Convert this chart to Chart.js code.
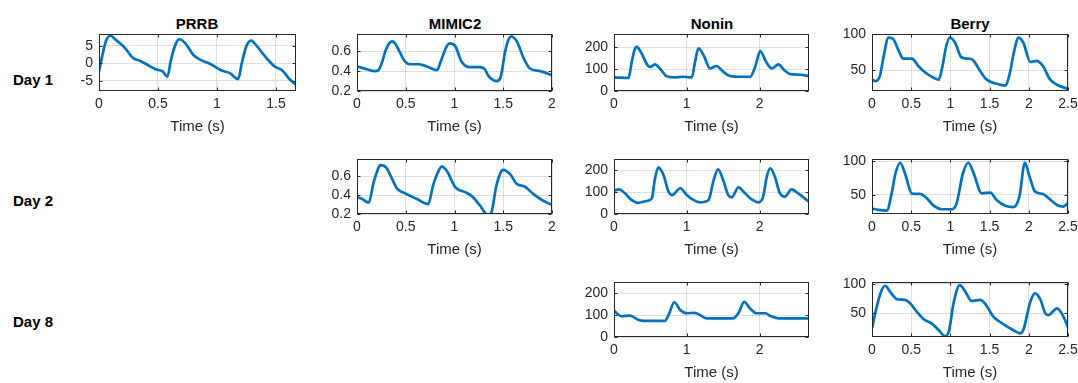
<!DOCTYPE html>
<html>
<head>
<meta charset="utf-8">
<title>PPG waveforms by device and day</title>
<script src="https://cdn.jsdelivr.net/npm/chart.js@4.4.0/dist/chart.umd.min.js"></script>
<style>
    body {
        margin: 0;
        background: #fff;
        width: 1078px;
        height: 383px;
        position: relative;
        overflow: hidden;
        font-family: "Liberation Sans", Arial, sans-serif;
    }
    canvas { position: absolute; }
    .lbl {
        position: absolute;
        transform: translate(-50%, -50%);
        font-weight: bold;
        font-size: 15px;
        color: #000;
        white-space: nowrap;
    }
</style>
</head>
<body>
<div class="lbl" style="left:197px; top:23px">PRRB</div>
<div class="lbl" style="left:455px; top:23px">MIMIC2</div>
<div class="lbl" style="left:712px; top:23px">Nonin</div>
<div class="lbl" style="left:970px; top:23px">Berry</div>
<div class="lbl" style="left:33px; top:79px">Day 1</div>
<div class="lbl" style="left:33px; top:200px">Day 2</div>
<div class="lbl" style="left:33px; top:321px">Day 8</div>

<script>
// Signal data (time in s, amplitude in device units)
const prrbDay1T = [0, 0.03, 0.06, 0.10, 0.14, 0.21, 0.29, 0.35, 0.41, 0.48, 0.54, 0.58, 0.61, 0.65, 0.68, 0.73, 0.80, 0.86, 0.94, 1.03, 1.11, 1.18, 1.21, 1.25, 1.29, 1.33, 1.41, 1.49, 1.55, 1.62, 1.67];
const prrbDay1V = [-2.3, 2.5, 6.5, 7.9, 6.8, 4.8, 1.5, 0.7, -0.4, -1.7, -2.3, -3.8, 1.0, 5.5, 6.9, 5.8, 2.4, 1.0, -0.1, -1.9, -2.8, -4.5, 0.0, 5.0, 6.5, 5.3, 1.9, -0.9, -1.9, -4.7, -6.1];

const mimicDay1T = [0, 0.10, 0.18, 0.22, 0.26, 0.29, 0.33, 0.36, 0.39, 0.42, 0.49, 0.54, 0.63, 0.71, 0.82, 0.86, 0.89, 0.92, 0.95, 1.01, 1.07, 1.16, 1.26, 1.31, 1.35, 1.43, 1.47, 1.52, 1.55, 1.58, 1.64, 1.71, 1.77, 1.88, 2.0];
const mimicDay1V = [0.447, 0.42, 0.40, 0.41, 0.50, 0.60, 0.68, 0.70, 0.68, 0.63, 0.50, 0.47, 0.47, 0.45, 0.41, 0.50, 0.58, 0.65, 0.68, 0.65, 0.50, 0.44, 0.44, 0.42, 0.35, 0.30, 0.33, 0.60, 0.71, 0.75, 0.70, 0.53, 0.43, 0.40, 0.36];

const noninDay1T = [0, 0.20, 0.24, 0.28, 0.31, 0.38, 0.46, 0.50, 0.56, 0.63, 0.72, 0.82, 0.95, 1.07, 1.11, 1.16, 1.23, 1.32, 1.41, 1.50, 1.60, 1.73, 1.87, 1.94, 2.01, 2.09, 2.17, 2.26, 2.34, 2.42, 2.56, 2.68];
const noninDay1V = [62, 60, 126, 185, 201, 171, 118, 110, 121, 103, 68, 62, 65, 62, 126, 194, 164, 103, 114, 88, 68, 65, 65, 110, 182, 133, 103, 121, 95, 77, 74, 68];

const berryDay1T = [0, 0.04, 0.10, 0.15, 0.21, 0.27, 0.34, 0.40, 0.51, 0.59, 0.68, 0.78, 0.85, 0.90, 0.94, 0.99, 1.06, 1.14, 1.23, 1.29, 1.38, 1.46, 1.59, 1.70, 1.76, 1.81, 1.87, 1.93, 2.02, 2.10, 2.18, 2.27, 2.38, 2.5];
const berryDay1V = [37.5, 35, 42, 70, 95, 93, 77, 66, 66, 56, 47, 40, 37, 56, 80, 95, 88, 68, 66, 64, 49, 37.5, 31.5, 29, 47, 75, 95, 88, 61.5, 63, 56, 37.5, 29, 24.5];

const mimicDay2T = [0, 0.05, 0.12, 0.17, 0.21, 0.24, 0.30, 0.36, 0.41, 0.51, 0.61, 0.73, 0.78, 0.83, 0.87, 0.92, 1.01, 1.11, 1.18, 1.26, 1.35, 1.38, 1.43, 1.47, 1.50, 1.57, 1.64, 1.72, 1.81, 1.91, 2.0];
const mimicDay2V = [0.376, 0.36, 0.32, 0.53, 0.66, 0.716, 0.69, 0.57, 0.47, 0.41, 0.36, 0.305, 0.50, 0.64, 0.70, 0.656, 0.48, 0.43, 0.386, 0.29, 0.18, 0.22, 0.50, 0.63, 0.666, 0.62, 0.516, 0.49, 0.41, 0.34, 0.295];

const noninDay2T = [0, 0.07, 0.15, 0.24, 0.33, 0.45, 0.52, 0.56, 0.61, 0.68, 0.75, 0.80, 0.91, 1.0, 1.09, 1.18, 1.30, 1.37, 1.43, 1.50, 1.57, 1.62, 1.71, 1.80, 1.89, 1.98, 2.05, 2.10, 2.15, 2.21, 2.28, 2.35, 2.44, 2.54, 2.69];
const noninDay2V = [106, 112, 94, 64, 51, 59, 71, 155, 212, 177, 101, 86, 117, 86, 64, 53, 64, 155, 203, 155, 86, 76, 121, 94, 67, 53, 79, 170, 208, 170, 94, 79, 112, 91, 53];

const berryDay2T = [0, 0.08, 0.19, 0.25, 0.30, 0.36, 0.42, 0.51, 0.61, 0.68, 0.78, 0.89, 1.02, 1.08, 1.16, 1.23, 1.29, 1.40, 1.51, 1.59, 1.70, 1.80, 1.88, 1.95, 2.01, 2.08, 2.18, 2.27, 2.38, 2.44, 2.5];
const berryDay2V = [30, 28, 27, 52, 82, 97.5, 82, 52, 51.5, 47.5, 35, 29, 29, 38, 82, 97.5, 84, 52.5, 53.5, 42.5, 34, 32, 47.5, 97.5, 77, 55, 51.5, 43.5, 34, 33, 38];

const noninDay8T = [0, 0.10, 0.22, 0.34, 0.40, 0.70, 0.75, 0.83, 0.91, 1.0, 1.11, 1.18, 1.27, 1.64, 1.71, 1.79, 1.87, 1.96, 2.08, 2.15, 2.26, 2.68];
const noninDay8V = [120, 95, 97, 77, 73, 73, 100, 158, 123, 108, 110, 100, 85, 85, 108, 160, 130, 108, 108, 95, 85, 85];

const berryDay8T = [0, 0.06, 0.12, 0.17, 0.23, 0.32, 0.42, 0.48, 0.57, 0.66, 0.76, 0.85, 0.93, 0.98, 1.04, 1.12, 1.19, 1.27, 1.38, 1.44, 1.55, 1.66, 1.80, 1.89, 1.93, 2.02, 2.08, 2.15, 2.21, 2.25, 2.36, 2.42, 2.5];
const berryDay8V = [24.5, 61, 88.6, 97, 87, 74, 73, 68, 53, 40, 33, 21.6, 11.4, 18.7, 67, 98, 87, 71, 73, 67, 44, 33, 21.6, 16, 21.6, 70, 84, 73, 50, 47, 58.6, 50, 27];

// Tick labels
const prrbXTicks = [0, 0.5, 1, 1.5];
const prrbYTicks = [-5, 0, 5];
const mimicXTicks = [0, 0.5, 1, 1.5, 2];
const mimicYTicks = [0.2, 0.4, 0.6];
const noninXTicks = [0, 1, 2];
const noninYTicks = [0, 100, 200];
const berryXTicks = [0, 0.5, 1, 1.5, 2, 2.5];
const berryYTicks = [50, 100];

// Axis limits
const prrbXMax = 1.67;
const mimicXMax = 2;
const noninXMax = 2.68;
const berryXMax = 2.5;

// Plot box geometry (pixels on page)
const colLeft = [99, 357, 614, 872];
const colWidth = [197, 195, 195, 196];
const rowTop = [34, 159, 282];
const rowHeight = [57, 55, 55];

const LINE = '#0072BD';
const AXIS = '#262626';
const GRID = 'rgba(38,38,38,0.15)';
const FONT = '"Liberation Sans", Arial, sans-serif';

// MATLAB style box with small inward ticks
const boxPlugin = {
    id: 'box',
    afterDraw(chart) {
        const ctx = chart.ctx;
        const a = chart.chartArea;
        const x0 = Math.round(a.left) + 0.5, x1 = Math.round(a.right) - 0.5;
        const y0 = Math.round(a.top) + 0.5, y1 = Math.round(a.bottom) - 0.5;
        ctx.save();
        ctx.strokeStyle = AXIS;
        ctx.lineWidth = 1;
        ctx.strokeRect(x0, y0, x1 - x0, y1 - y0);
        ctx.beginPath();
        chart.scales.x.ticks.forEach(t => {
            const px = Math.round(chart.scales.x.getPixelForValue(t.value)) + 0.5;
            ctx.moveTo(px, y1); ctx.lineTo(px, y1 - 3);
            ctx.moveTo(px, y0); ctx.lineTo(px, y0 + 3);
        });
        chart.scales.y.ticks.forEach(t => {
            const py = Math.round(chart.scales.y.getPixelForValue(t.value)) + 0.5;
            ctx.moveTo(x0, py); ctx.lineTo(x0 + 3, py);
            ctx.moveTo(x1, py); ctx.lineTo(x1 - 3, py);
        });
        ctx.stroke();
        ctx.restore();
    }
};

const M = { left: 50, top: 10, right: 14, bottom: 45 };

function makePanel(col, row, t, v, xMax, yMin, yMax, xTicks, yTicks) {
    const canvas = document.createElement('canvas');
    const w = colWidth[col] + M.left + M.right;
    const h = rowHeight[row] + M.top + M.bottom;
    canvas.width = w;
    canvas.height = h;
    canvas.style.left = (colLeft[col] - M.left) + 'px';
    canvas.style.top = (rowTop[row] - M.top) + 'px';
    document.body.appendChild(canvas);

    const points = t.map((x, i) => ({ x: x, y: v[i] }));

    return new Chart(canvas.getContext('2d'), {
        type: 'line',
        data: {
            datasets: [{
                data: points,
                borderColor: LINE,
                borderWidth: 2.7,
                pointRadius: 0,
                cubicInterpolationMode: 'monotone',
                fill: false
            }]
        },
        options: {
            responsive: false,
            animation: false,
            devicePixelRatio: 1,
            layout: { padding: { left: 0, top: M.top, right: M.right, bottom: 0 } },
            plugins: { legend: { display: false }, tooltip: { enabled: false } },
            scales: {
                x: {
                    type: 'linear',
                    min: 0,
                    max: xMax,
                    afterBuildTicks: axis => { axis.ticks = xTicks.map(val => ({ value: val })); },
                    afterFit: s => { s.height = M.bottom; s.paddingLeft = 0; s.paddingRight = 0; },
                    grid: { color: GRID, drawTicks: false },
                    border: { display: false },
                    ticks: {
                        color: AXIS, padding: 5, font: { family: FONT, size: 14 },
                        maxRotation: 0, autoSkip: false,
                        callback: val => String(val)
                    },
                    title: { display: true, text: 'Time (s)', color: AXIS, padding: 0, font: { family: FONT, size: 15 } }
                },
                y: {
                    min: yMin,
                    max: yMax,
                    afterBuildTicks: axis => { axis.ticks = yTicks.map(val => ({ value: val })); },
                    afterFit: s => { s.width = M.left; s.paddingTop = 0; s.paddingBottom = 0; },
                    grid: { color: GRID, drawTicks: false },
                    border: { display: false },
                    ticks: {
                        color: AXIS, padding: 6, font: { family: FONT, size: 14 },
                        autoSkip: false,
                        callback: val => String(val)
                    }
                }
            }
        },
        plugins: [boxPlugin]
    });
}

// Day 1
makePanel(0, 0, prrbDay1T, prrbDay1V, prrbXMax, -7.9, 8.4, prrbXTicks, prrbYTicks);
makePanel(1, 0, mimicDay1T, mimicDay1V, mimicXMax, 0.2, 0.775, mimicXTicks, mimicYTicks);
makePanel(2, 0, noninDay1T, noninDay1V, noninXMax, 0, 260, noninXTicks, noninYTicks);
makePanel(3, 0, berryDay1T, berryDay1V, berryXMax, 21.5, 100, berryXTicks, berryYTicks);

// Day 2
makePanel(1, 1, mimicDay2T, mimicDay2V, mimicXMax, 0.2, 0.78, mimicXTicks, mimicYTicks);
makePanel(2, 1, noninDay2T, noninDay2V, noninXMax, 0, 250, noninXTicks, noninYTicks);
makePanel(3, 1, berryDay2T, berryDay2V, berryXMax, 22, 103, berryXTicks, berryYTicks);

// Day 8
makePanel(2, 2, noninDay8T, noninDay8V, noninXMax, 0, 250, noninXTicks, noninYTicks);
makePanel(3, 2, berryDay8T, berryDay8V, berryXMax, 9.7, 103.4, berryXTicks, berryYTicks);
</script>
</body>
</html>
